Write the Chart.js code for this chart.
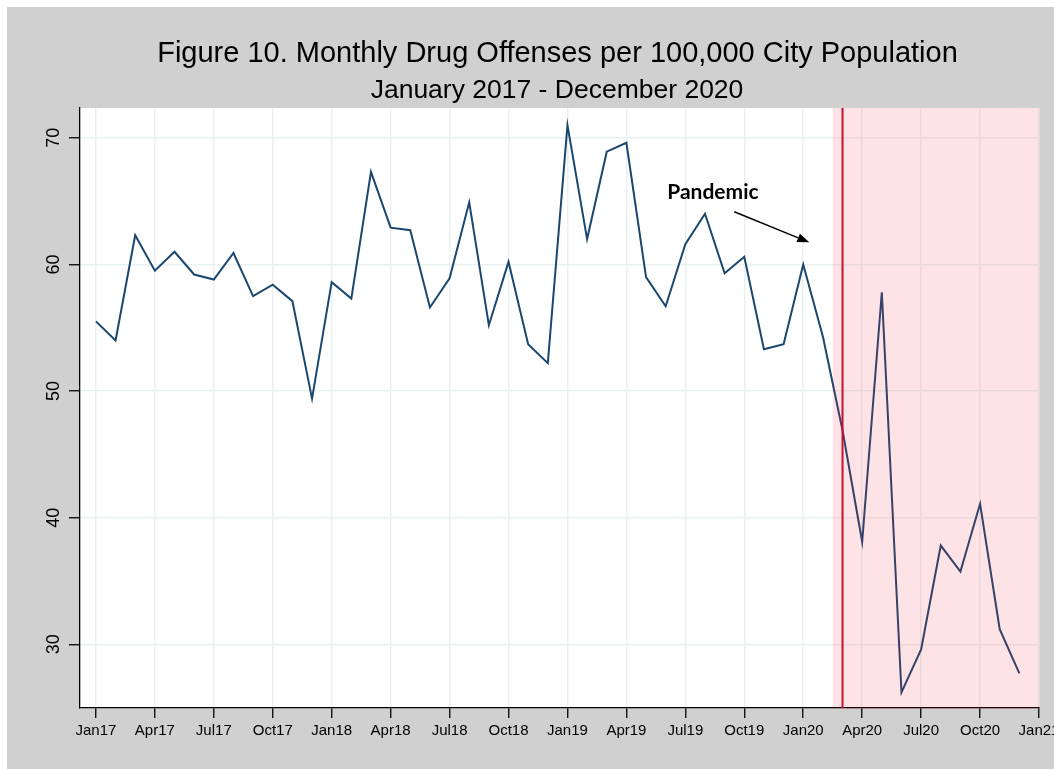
<!DOCTYPE html>
<html><head><meta charset="utf-8">
<script src="https://cdn.jsdelivr.net/npm/chart.js@4/dist/chart.umd.min.js"></script>
<style>
html,body{margin:0;padding:0;background:#fff;}
#wrap{position:absolute;left:7px;top:7px;width:1047px;height:762px;background:#d0d0d0;overflow:hidden;}
canvas{display:block;}
</style></head><body>
<div id="wrap"><canvas id="c" width="1047" height="762"></canvas></div>
<script>
const titleText = "Figure 10. Monthly Drug Offenses per 100,000 City Population";
const subtitleText = "January 2017 - December 2020";

const monthLabels = [
  "Jan17","Feb17","Mar17","Apr17","May17","Jun17","Jul17","Aug17","Sep17","Oct17","Nov17","Dec17",
  "Jan18","Feb18","Mar18","Apr18","May18","Jun18","Jul18","Aug18","Sep18","Oct18","Nov18","Dec18",
  "Jan19","Feb19","Mar19","Apr19","May19","Jun19","Jul19","Aug19","Sep19","Oct19","Nov19","Dec19",
  "Jan20","Feb20","Mar20","Apr20","May20","Jun20","Jul20","Aug20","Sep20","Oct20","Nov20","Dec20"
];
const offenseRates = [
  55.5, 54.0, 62.3, 59.5, 61.0, 59.2, 58.8, 60.9, 57.5, 58.4, 57.1, 49.4,
  58.6, 57.3, 67.3, 62.9, 62.7, 56.6, 58.9, 64.9, 55.2, 60.2, 53.7, 52.2,
  71.0, 62.0, 68.9, 69.6, 59.0, 56.7, 61.6, 64.0, 59.3, 60.6, 53.3, 53.7,
  60.0, 54.3, 46.9, 38.1, 57.8, 26.2, 29.6, 37.8, 35.75, 41.1, 31.2, 27.7
];
const xTickPositions = [0,3,6,9,12,15,18,21,24,27,30,33,36,39,42,45,48];
const xTickLabels = ["Jan17","Apr17","Jul17","Oct17","Jan18","Apr18","Jul18","Oct18",
  "Jan19","Apr19","Jul19","Oct19","Jan20","Apr20","Jul20","Oct20","Jan21"];
const yTickValues = [30,40,50,60,70];

const pandemicShadeStart = 37.5;   // mid-February 2020 (month index)
const pandemicLineAt = 38;         // March 2020 (month index)
const annotationText = "Pandemic";
const annotationTextPos = {x: 29.08, y: 65.14};
const arrowFrom = {x: 32.49, y: 64.16};
const arrowTo = {x: 36.31, y: 61.74};

const seriesPoints = offenseRates.map((v, i) => ({x: i, y: v}));

const decorPlugin = {
  id: 'decor',
  afterDatasetsDraw(chart) {
    const {ctx, chartArea: a, scales: {x, y}} = chart;
    ctx.save();
    const xs = x.getPixelForValue(pandemicShadeStart);
    ctx.fillStyle = 'rgba(250,40,60,0.13)';
    ctx.fillRect(xs, a.top, a.right - xs, a.bottom - a.top + 1);
    const xl = x.getPixelForValue(pandemicLineAt);
    ctx.strokeStyle = '#c8102e';
    ctx.lineWidth = 2;
    ctx.beginPath();
    ctx.moveTo(xl, a.top);
    ctx.lineTo(xl, a.bottom);
    ctx.stroke();
    ctx.restore();
  },
  afterDraw(chart) {
    const {ctx, scales: {x, y}} = chart;
    ctx.save();
    ctx.fillStyle = '#000';
    // titles
    ctx.textAlign = 'center';
    ctx.textBaseline = 'alphabetic';
    ctx.font = '29px "Liberation Sans", Arial, sans-serif';
    ctx.fillText(titleText, 550.5, 55);
    ctx.font = '26.5px "Liberation Sans", Arial, sans-serif';
    ctx.fillText(subtitleText, 550, 91);
    // y tick labels (rotated)
    ctx.font = '18px "Liberation Sans", Arial, sans-serif';
    yTickValues.forEach(v => {
      const py = y.getPixelForValue(v);
      ctx.save();
      ctx.translate(52, py);
      ctx.rotate(-Math.PI / 2);
      ctx.textAlign = 'center';
      ctx.fillText(String(v), 0, 0);
      ctx.restore();
    });
    // annotation
    ctx.textAlign = 'left';
    ctx.font = 'bold 21px Lato, "Open Sans", sans-serif';
    ctx.fillText(annotationText, x.getPixelForValue(annotationTextPos.x), y.getPixelForValue(annotationTextPos.y));
    const x0 = x.getPixelForValue(arrowFrom.x), y0 = y.getPixelForValue(arrowFrom.y);
    const x1 = x.getPixelForValue(arrowTo.x), y1 = y.getPixelForValue(arrowTo.y);
    const ang = Math.atan2(y1 - y0, x1 - x0);
    const hl = 12, hw = 4.5;
    const bx = x1 - hl * Math.cos(ang), by = y1 - hl * Math.sin(ang);
    ctx.strokeStyle = '#000';
    ctx.lineWidth = 1.5;
    ctx.beginPath();
    ctx.moveTo(x0, y0);
    ctx.lineTo(bx, by);
    ctx.stroke();
    ctx.beginPath();
    ctx.moveTo(x1, y1);
    ctx.lineTo(bx + hw * Math.sin(ang), by - hw * Math.cos(ang));
    ctx.lineTo(bx - hw * Math.sin(ang), by + hw * Math.cos(ang));
    ctx.closePath();
    ctx.fill();
    ctx.restore();
  }
};

const plotBg = {
  id: 'plotBg',
  beforeDraw(chart) {
    const {ctx, chartArea: a} = chart;
    ctx.save();
    ctx.fillStyle = '#ffffff';
    ctx.fillRect(a.left, a.top, a.right - a.left, a.bottom - a.top);
    ctx.restore();
  }
};

new Chart(document.getElementById('c'), {
  type: 'line',
  data: {
    labels: monthLabels,
    datasets: [{
      data: seriesPoints,
      borderColor: '#1a476f',
      borderWidth: 2,
      pointRadius: 0,
      tension: 0,
      fill: false
    }]
  },
  options: {
    responsive: false,
    animation: false,
    devicePixelRatio: 1,
    layout: {padding: {top: 101, right: 15, bottom: 0, left: 0}},
    plugins: {legend: {display: false}, tooltip: {enabled: false}, title: {display: false}},
    scales: {
      x: {
        type: 'linear',
        min: -0.81,
        max: 48,
        afterBuildTicks: s => { s.ticks = xTickPositions.map(v => ({value: v})); },
        afterFit: s => { s.height = 61; s.paddingLeft = 0; s.paddingRight = 0; },
        ticks: {
          autoSkip: false, maxRotation: 0, minRotation: 0,
          color: '#000',
          padding: 4,
          font: {family: '"Liberation Sans", Arial, sans-serif', size: 15},
          callback: v => { const i = xTickPositions.indexOf(v); return i >= 0 ? xTickLabels[i] : ''; }
        },
        grid: {color: '#e9f1f3', lineWidth: 1.5, tickColor: '#000', tickWidth: 1.3, tickLength: 10},
        border: {display: true, color: '#000', width: 1.3}
      },
      y: {
        min: 24.97,
        max: 72.35,
        afterBuildTicks: s => { s.ticks = yTickValues.map(v => ({value: v})); },
        afterFit: s => { s.width = 73; s.paddingTop = 0; s.paddingBottom = 0; },
        ticks: {display: false},
        grid: {color: '#e9f1f3', lineWidth: 1.5, tickColor: '#000', tickWidth: 1.3, tickLength: 11},
        border: {display: true, color: '#000', width: 1.3}
      }
    }
  },
  plugins: [plotBg, decorPlugin]
});
</script>
</body></html>
